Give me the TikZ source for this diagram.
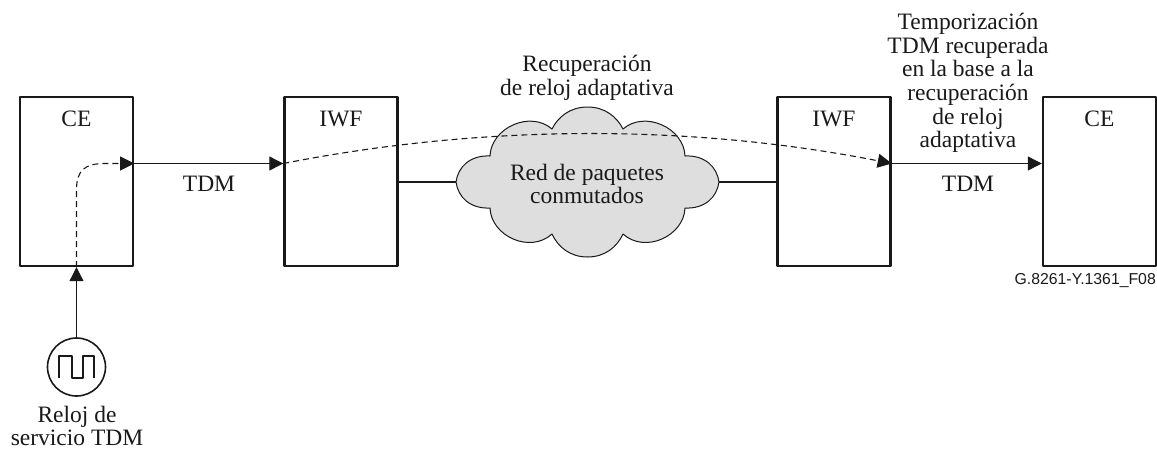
\documentclass[tikz,border=0pt]{standalone}
\usepackage{fontspec}
\setmainfont{Liberation Serif}
\newfontfamily\tagfont{Liberation Sans}
\usetikzlibrary{arrows.meta}
\tikzset{
	boxnode/.style={draw, line width=2.4pt, minimum width=113pt, minimum height=169pt, inner sep=0pt},
	txt/.style={font=\fontsize{23.5}{23.7}\selectfont, align=center, inner sep=0pt},
	tip/.style={-{Triangle[length=14pt,width=14pt]}, line width=1.1pt},
	dashline/.style={dash pattern=on 6pt off 4pt, line width=1.1pt}
}
\begin{document}
\begin{tikzpicture}[x=1pt, y=-1pt, line join=round, line cap=butt, color={black!90}]
	\useasboundingbox (0,0) rectangle (1157,450);
	\path
	(456,182) coordinate (cloudW)
	(719,182) coordinate (cloudE)
	(587.5,107) coordinate (cloudN)
	(587.5,257) coordinate (cloudS)
	(490,156) coordinate (NW)
	(552,129) coordinate (NNW)
	(623,129) coordinate (NNE)
	(685,156) coordinate (NE)
	(685,208) coordinate (SE)
	(623,234) coordinate (SSE)
	(552,234) coordinate (SSW)
	(490,208) coordinate (SW)
	;
	\foreach \n/\x in {ceA/76.5, iwfA/341, iwfB/834, ceB/1099.5}
	\node[boxnode] (\n) at (\x,181.5) {};
	\draw[fill=black!13, line width=1pt]
	(cloudW) .. controls (458,167) and (470,155) .. (NW)
	.. controls (491,128) and (530,110) .. (NNW)
	.. controls (558,117) and (570,107) .. (cloudN)
	.. controls (605,107) and (617,117) .. (NNE)
	.. controls (645,110) and (684,128) .. (NE)
	.. controls (705,155) and (717,167) .. (cloudE)
	.. controls (717,197) and (705,209) .. (SE)
	.. controls (684,236) and (645,254) .. (SSE)
	.. controls (617,247) and (605,257) .. (cloudS)
	.. controls (570,257) and (558,247) .. (SSW)
	.. controls (530,254) and (491,236) .. (SW)
	.. controls (470,209) and (458,197) .. (cloudW);
	\draw[line width=1.6pt] (iwfA.east|-cloudW)--(cloudW) (cloudE)--(iwfB.west|-cloudE);
	\node[draw, circle, line width=1.6pt, minimum size=58pt, inner sep=0pt] (clk) at (76.5,367) {};
	\draw[line width=1.6pt] (59,378)--(59,356)--(72,356)--(72,378)--(83,378)--(83,356)--(94,356)--(94,378);
	\path (ceA.east|-0,163.5) coordinate (ceAout)
	(iwfA.west|-0,163.5) coordinate (iwfAin)
	(iwfB.east|-0,163.5) coordinate (iwfBout)
	(ceB.west|-0,163.5) coordinate (ceBin);
	\draw[tip] (ceAout)--(iwfAin);
	\draw[tip] (iwfBout)--(ceBin);
	\draw[tip] (clk)--(ceA.south);
	\draw[tip, dashline] (ceA.south)--(76.5,190) .. controls (76.5,170) and (85,163.5) .. (105,163.5)--(ceAout);
	\draw[tip, dashline] (iwfAin) .. controls (484,124) and (691,124) .. (iwfBout);
	\foreach \n/\x/\y/\t in {a/76.5/126/CE, b/341/126/IWF, c/834/126/IWF, d/1099.5/126/CE, e/209/191/TDM, f/968/191/TDM}
	\node[txt, anchor=base] (lab\n) at (\x,\y) {\t};
	\node[txt] (recup) at (587,78) {Recuperación\\de reloj adaptativa};
	\node[txt] (red) at (587,184) {Red de paquetes\\conmutados};
	\node[txt] (temp) at (968,83) {Temporización\\TDM recuperada\\en la base a la\\recuperación\\de reloj\\adaptativa};
	\node[txt] (reloj) at (77,426) {Reloj de\\servicio TDM};
	\node[font=\tagfont\fontsize{15.8}{18}\selectfont, anchor=east, inner sep=0pt] (fig) at (1156,281) {G.8261-Y.1361\_F08};
\end{tikzpicture}
\end{document}
